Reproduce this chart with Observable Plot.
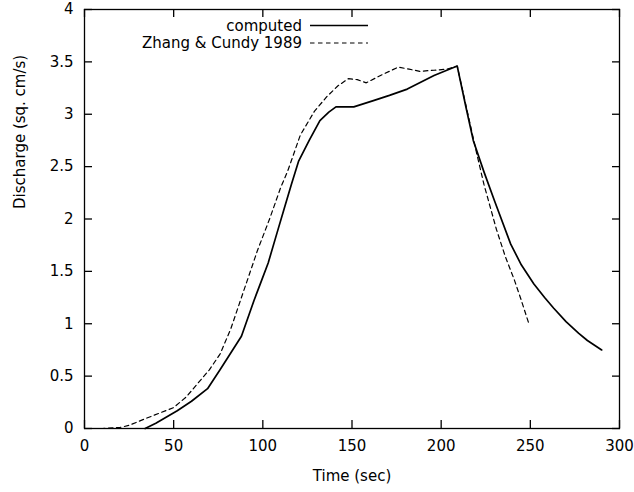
<!DOCTYPE html>
<html>
<head>
<meta charset="utf-8">
<script src="https://cdn.jsdelivr.net/npm/d3@7"></script>
<script src="https://cdn.jsdelivr.net/npm/@observablehq/plot@0.6"></script>
<style>
  html, body { margin: 0; padding: 0; background: #fff; }
  #chart { width: 634px; height: 492px; }
</style>
</head>
<body>
<div id="chart"></div>
<script>
// ---- data ----
const xTicks = [0, 50, 100, 150, 200, 250, 300];
const yTicks = [0, 0.5, 1, 1.5, 2, 2.5, 3, 3.5, 4];
const seriesNames = ["computed", "Zhang & Cundy 1989"];

const computedT = [34, 40, 52, 60, 69, 76, 82, 88, 95, 99, 103, 108, 112, 116, 120, 126, 132, 137, 141, 151, 162, 171, 181, 196, 209, 214, 218, 224, 230, 239, 245, 252, 258, 263, 270, 277, 282, 290];
const computedQ = [0, 0.05, 0.17, 0.26, 0.38, 0.56, 0.72, 0.88, 1.22, 1.40, 1.58, 1.87, 2.1, 2.33, 2.55, 2.75, 2.94, 3.02, 3.07, 3.07, 3.13, 3.18, 3.24, 3.37, 3.46, 3.06, 2.75, 2.45, 2.17, 1.76, 1.56, 1.38, 1.25, 1.15, 1.02, 0.91, 0.84, 0.75];

const zhangT = [0, 10, 20, 25, 35, 50, 57, 63, 70, 76, 82, 88, 97, 104, 110, 114, 121, 129, 136, 142, 148, 153, 158, 166, 171, 176, 182, 188, 196, 203, 209, 215, 220, 224, 231, 236, 241, 245, 249];
const zhangQ = [0, 0, 0.01, 0.03, 0.1, 0.2, 0.3, 0.42, 0.56, 0.71, 0.95, 1.25, 1.70, 2.01, 2.3, 2.46, 2.8, 3.03, 3.17, 3.27, 3.34, 3.33, 3.30, 3.37, 3.41, 3.45, 3.43, 3.41, 3.42, 3.43, 3.46, 3.0, 2.62, 2.33, 1.9, 1.64, 1.42, 1.22, 1.01];

const computed = computedT.map((t, i) => ({t, q: computedQ[i]}));
const zhang = zhangT.map((t, i) => ({t, q: zhangQ[i]}));

const FONT = "DejaVu Sans";
const FS = 15;
const fmt = d => String(d);

const W = 634, H = 492, ML = 84, MR = 15, MT = 9, MB = 64;
const TICK = 8;
const frameW = W - ML - MR, frameH = H - MT - MB;

const plot = Plot.plot({
  width: W,
  height: H,
  marginLeft: ML,
  marginRight: MR,
  marginTop: MT,
  marginBottom: MB,
  style: {fontFamily: FONT, fontSize: FS + "px", background: "#fff", color: "#000"},
  x: {domain: [0, 300]},
  y: {domain: [0, 4]},
  marks: [
    // inward ticks on all four sides
    Plot.tickX(xTicks, {x: d => d, insetTop: frameH - TICK, stroke: "#000", strokeWidth: 1.3}),
    Plot.tickX(xTicks, {x: d => d, insetBottom: frameH - TICK, stroke: "#000", strokeWidth: 1.3}),
    Plot.axisY({anchor: "left", ticks: yTicks, tickSize: TICK, dx: TICK, tickFormat: () => "", label: null, strokeWidth: 1.3}),
    Plot.axisY({anchor: "right", ticks: yTicks, tickSize: TICK, dx: -TICK, tickFormat: () => "", label: null, strokeWidth: 1.3}),
    // tick labels
    Plot.axisX({anchor: "bottom", ticks: xTicks, tickSize: 0, tickPadding: 12, tickFormat: fmt, label: null, fontSize: FS}),
    Plot.axisY({anchor: "left", ticks: yTicks, tickSize: 0, tickPadding: 11, tickFormat: fmt, label: null, fontSize: FS}),
    Plot.frame({stroke: "#000", strokeWidth: 1.3}),
    // axis titles
    Plot.text(["Time (sec)"], {frameAnchor: "bottom", text: d => d, dy: 48, fontSize: FS, lineAnchor: "middle"}),
    Plot.text(["Discharge (sq. cm/s)"], {frameAnchor: "left", text: d => d, rotate: -90, dx: -64, dy: -10, fontSize: FS, lineAnchor: "middle"}),
    // series
    Plot.line(zhang, {x: "t", y: "q", stroke: "#000", strokeWidth: 1.2, strokeDasharray: "4.5,3.5"}),
    Plot.line(computed, {x: "t", y: "q", stroke: "#000", strokeWidth: 1.7})
  ]
});

document.getElementById("chart").appendChild(plot);

// legend (top, inside the frame)
const svg = d3.select(plot);
const legend = svg.append("g").attr("font-family", FONT).attr("font-size", FS);
const dashes = [null, "4.5,3.5"];
const widths = [1.7, 1.2];
seriesNames.forEach((name, i) => {
  const cy = 25.5 + i * 17.5;
  legend.append("text")
    .attr("x", 302).attr("y", cy).attr("dy", "0.36em")
    .attr("text-anchor", "end").attr("fill", "#000").text(name);
  legend.append("line")
    .attr("x1", 310).attr("x2", 368).attr("y1", cy).attr("y2", cy)
    .attr("stroke", "#000").attr("stroke-width", widths[i])
    .attr("stroke-dasharray", dashes[i]);
});
</script>
</body>
</html>
